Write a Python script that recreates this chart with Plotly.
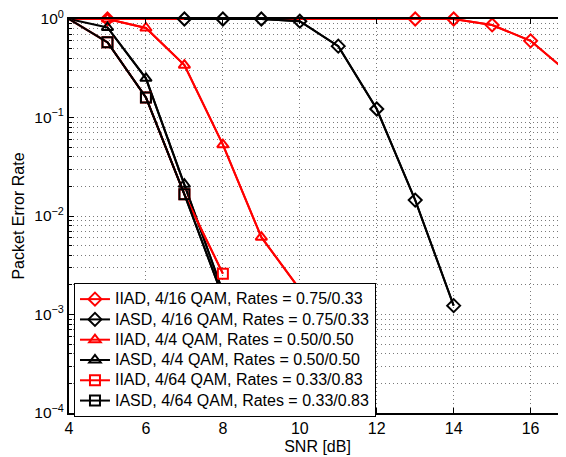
import plotly.graph_objects as go

# ---- data ----
snr_iiad_16 = [4, 5, 13, 14, 15, 16, 17]
per_iiad_16 = [1.0, 1.0, 1.0, 1.0, 0.87, 0.60, 0.28]

snr_iasd_16 = [7, 8, 9, 10, 11, 12, 13, 14]
per_iasd_16 = [1.0, 1.0, 1.0, 0.95, 0.53, 0.122, 0.0145, 0.00123]

snr_iiad_4 = [4, 5, 6, 7, 8, 9, 10]
per_iiad_4 = [1.0, 1.0, 0.81, 0.34, 0.053, 0.0061, 0.0018]

snr_iasd_4 = [4, 5, 6, 7, 8]
per_iasd_4 = [1.0, 0.82, 0.25, 0.021, 0.0017]

snr_iiad_64 = [4, 5, 6, 7, 8]
per_iiad_64 = [1.0, 0.58, 0.16, 0.0166, 0.0026]

snr_iasd_64 = [4, 5, 6, 7, 8]
per_iasd_64 = [1.0, 0.58, 0.16, 0.0166, 0.0015]

names = [
    "IIAD, 4/16 QAM, Rates = 0.75/0.33",
    "IASD, 4/16 QAM, Rates = 0.75/0.33",
    "IIAD, 4/4 QAM, Rates = 0.50/0.50",
    "IASD, 4/4 QAM, Rates = 0.50/0.50",
    "IIAD, 4/64 QAM, Rates = 0.33/0.83",
    "IASD, 4/64 QAM, Rates = 0.33/0.83",
]

y_tickvals = [1e-4, 1e-3, 1e-2, 1e-1, 1]
y_ticktext = ["10<sup>−4</sup>", "10<sup>−3</sup>", "10<sup>−2</sup>", "10<sup>−1</sup>", "10<sup>0</sup>"]
x_tickvals = [4, 6, 8, 10, 12, 14, 16]

series = [
    (snr_iiad_16, per_iiad_16, "red", "diamond-open"),
    (snr_iasd_16, per_iasd_16, "black", "diamond-open"),
    (snr_iiad_4, per_iiad_4, "red", "triangle-up-open"),
    (snr_iasd_4, per_iasd_4, "black", "triangle-up-open"),
    (snr_iiad_64, per_iiad_64, "red", "square-open"),
    (snr_iasd_64, per_iasd_64, "black", "square-open"),
]

fig = go.Figure()
for (xs, ys, col, sym), nm in zip(series, names):
    # full line (starts at 4 dB, where no marker is drawn)
    fig.add_trace(go.Scatter(
        x=xs, y=ys, mode="lines", showlegend=False, hoverinfo="skip",
        line=dict(color=col, width=2),
    ))
    mx = [x for x in xs if x > 4]
    my = [y for x, y in zip(xs, ys) if x > 4]
    fig.add_trace(go.Scatter(
        x=mx, y=my, name='<span style="font-size:16px">' + nm + "</span>",
        mode="lines+markers",
        line=dict(color=col, width=2),
        marker=dict(symbol=sym, size=10, color=col, line=dict(color=col, width=2)),
        cliponaxis=False,
    ))

font = "Liberation Sans, Arial, sans-serif"
grid = dict(showgrid=True, gridcolor="#7a7a7a", griddash="1px,3px", gridwidth=1)
# page body has an 8px default margin, so the figure is 8px smaller
fig.update_layout(
    width=558, height=449,
    margin=dict(l=61, r=0, t=11, b=44),
    paper_bgcolor="white", plot_bgcolor="white",
    font=dict(family=font, size=16, color="black"),
    showlegend=True,
    legend=dict(
        x=0.01, y=0.33, xanchor="left", yanchor="top",
        bgcolor="white", bordercolor="black", borderwidth=1,
        font=dict(family=font, size=13.3, color="black"),
        tracegroupgap=0, itemwidth=30,
    ),
    xaxis=dict(
        range=[4, 16.92], tickvals=x_tickvals, automargin=False,
        showline=True, linecolor="black", linewidth=2, mirror="ticks",
        ticks="inside", ticklen=5, tickcolor="black",
        zeroline=False,
        title=dict(text="SNR [dB]", standoff=5, font=dict(size=16)),
        tickfont=dict(size=16),
        **grid,
    ),
    yaxis=dict(
        type="log", range=[-4, 0], automargin=False,
        tickvals=y_tickvals, ticktext=y_ticktext, ticklabeloverflow="allow",
        showline=True, linecolor="black", linewidth=2, mirror="ticks",
        ticks="inside", ticklen=5, tickcolor="black",
        minor=dict(dtick="D1", ticks="inside", ticklen=3, tickcolor="black", **grid),
        zeroline=False,
        title=dict(text="Packet Error Rate", standoff=6, font=dict(size=16)),
        tickfont=dict(size=15.5),
        **grid,
    ),
)

fig.write_html("out.html")
